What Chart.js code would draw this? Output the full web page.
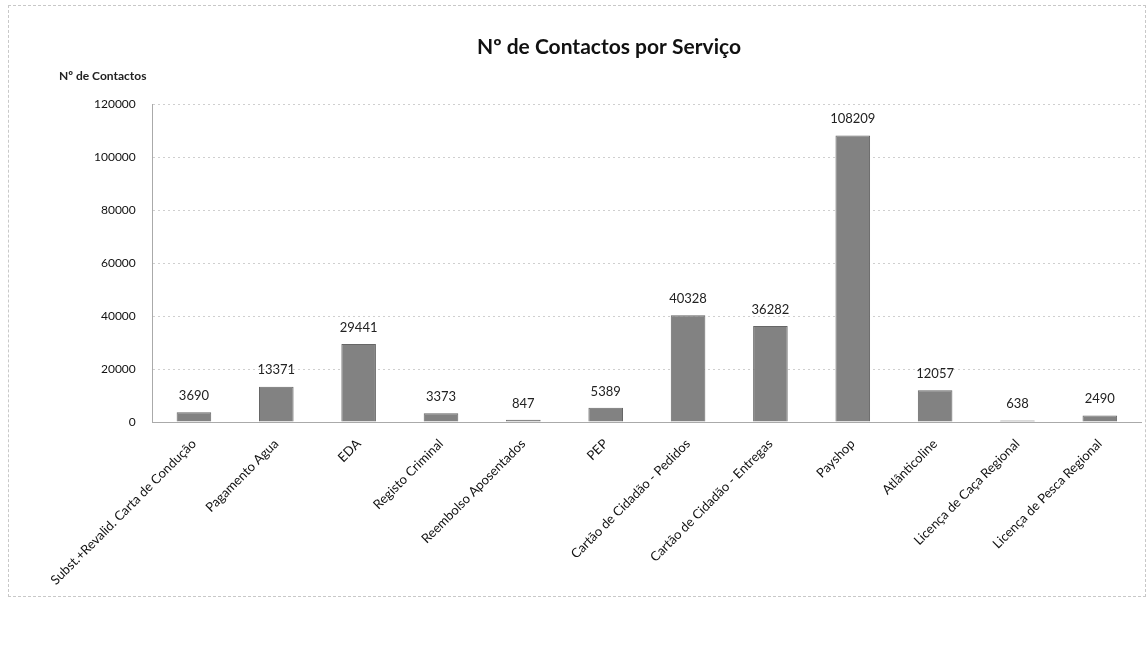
<!DOCTYPE html>
<html>
<head>
<meta charset="utf-8">
<script src="https://cdn.jsdelivr.net/npm/chart.js@4"></script>
<style>
  body { margin: 0; background: #fff; }
  #wrap {
    position: absolute; left: 8px; top: 5px;
    width: 1136px; height: 590px;
    border: 1px dashed #c8c8c8;
  }
</style>
</head>
<body>
<div id="wrap"><canvas id="chart"></canvas></div>
<script>
const services = [
    'Subst.+Revalid. Carta de Condução',
    'Pagamento Agua',
    'EDA',
    'Registo Criminal',
    'Reembolso Aposentados',
    'PEP',
    'Cartão de Cidadão - Pedidos',
    'Cartão de Cidadão - Entregas',
    'Payshop',
    'Atlânticoline',
    'Licença de Caça Regional',
    'Licença de Pesca Regional'
];
const contacts = [3690, 13371, 29441, 3373, 847, 5389, 40328, 36282, 108209, 12057, 638, 2490];
const yTicks = [0, 20000, 40000, 60000, 80000, 100000, 120000];

const fontFamily = 'Lato, "Open Sans", sans-serif';

// values above bars + axis caption at top left
const labelsPlugin = {
    id: 'labels',
    afterDatasetsDraw(chart) {
        const ctx = chart.ctx;
        const meta = chart.getDatasetMeta(0);
        ctx.save();
        ctx.font = '13px ' + fontFamily;
        ctx.fillStyle = '#222';
        ctx.textAlign = 'center';
        ctx.textBaseline = 'bottom';
        meta.data.forEach((bar, i) => {
            ctx.fillText(contacts[i], bar.x, bar.y - 10);
        });
        ctx.font = 'bold 12px ' + fontFamily;
        ctx.textAlign = 'left';
        ctx.textBaseline = 'middle';
        ctx.fillText('Nº de Contactos', 50, 70);
        ctx.restore();
    }
};

new Chart(document.getElementById('chart'), {
    type: 'bar',
    data: {
        labels: services,
        datasets: [{
            data: contacts,
            backgroundColor: '#828282',
            borderColor: '#666',
            borderWidth: 1,
            barPercentage: 0.42,
            categoryPercentage: 1
        }]
    },
    options: {
        responsive: true,
        maintainAspectRatio: false,
        animation: false,
        layout: { padding: { left: 68, right: 4, bottom: 2 } },
        plugins: {
            legend: { display: false },
            tooltip: { enabled: false },
            title: {
                display: true,
                text: 'Nº de Contactos por Serviço',
                color: '#111',
                font: { family: fontFamily, size: 21, weight: 'bold' },
                padding: { top: 29, bottom: 44 }
            }
        },
        scales: {
            x: {
                grid: { display: false },
                border: { color: '#aaa', dash: [2, 3] },
                ticks: {
                    minRotation: 45,
                    maxRotation: 45,
                    color: '#111',
                    padding: 6,
                    font: { family: fontFamily, size: 13 }
                }
            },
            y: {
                min: 0,
                max: 120000,
                afterBuildTicks(axis) {
                    axis.ticks = yTicks.map(v => ({ value: v }));
                },
                grid: { color: '#cfcfcf', tickLength: 0 },
                border: { color: '#aaa', dash: [2, 3] },
                ticks: {
                    color: '#111',
                    padding: 17,
                    font: { family: fontFamily, size: 12 },
                    callback: v => String(v)
                }
            }
        }
    },
    plugins: [labelsPlugin]
});
</script>
</body>
</html>
